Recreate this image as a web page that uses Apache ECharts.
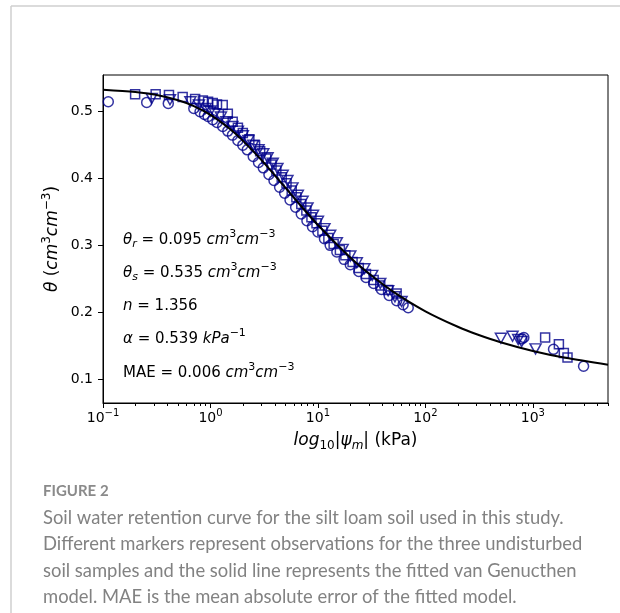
<!DOCTYPE html>
<html>
<head>
<meta charset="utf-8">
<style>html,body{margin:0;padding:0;background:#fff}#main{width:620px;height:613px}</style>
<script src="https://cdn.jsdelivr.net/npm/echarts@6/dist/echarts.min.js"></script>
</head>
<body>
<div id="main"></div>
<script>
    // observed points (kPa, cm3/cm3), three undisturbed samples
    var sampleSquares = [
        [0.199,0.526],[0.309,0.526],[0.411,0.525],[0.551,0.522],[0.72,0.519],[0.85,0.517],[0.95,0.515],
        [1.05,0.513],[1.15,0.511],[1.3,0.510],[1.45,0.497],[1.61,0.485],[1.8,0.476],[2.0,0.468],[2.3,0.459],
        [2.6,0.450],[2.9,0.441],[3.3,0.430],[3.7,0.421],[4.1,0.412],[4.6,0.402],[5.1,0.393],[5.7,0.382],
        [6.3,0.372],[7.0,0.362],[7.8,0.352],[8.7,0.342],[9.7,0.333],[11,0.322],[12.5,0.311],[14,0.302],
        [16,0.293],[18,0.285],[21,0.275],[24,0.266],[28,0.257],[33,0.248],[38,0.240],[45,0.233],[54,0.228],
        [1300,0.162],[1746,0.152],[1941,0.139],[2100,0.132]
    ];
    var sampleTriangles = [
        [0.284,0.520],[0.42,0.518],[0.65,0.515],[0.78,0.510],[0.9,0.505],[1.0,0.501],[1.1,0.497],[1.25,0.492],
        [1.4,0.485],[1.6,0.478],[1.8,0.471],[2.0,0.464],[2.25,0.457],[2.5,0.450],[2.8,0.443],[3.1,0.437],
        [3.4,0.431],[3.8,0.423],[4.2,0.415],[4.7,0.405],[5.2,0.397],[5.8,0.386],[6.5,0.375],[7.2,0.366],
        [8.0,0.356],[9.0,0.345],[10,0.336],[11.5,0.325],[13,0.315],[15,0.304],[17,0.294],[20,0.284],
        [23,0.274],[27,0.265],[32,0.255],[38,0.243],[45,0.232],[52,0.223],[60,0.216],
        [504,0.161],[647,0.164],[730,0.159],[785,0.156],[1059,0.145]
    ];
    var sampleCircles = [
        [0.112,0.515],[0.255,0.514],[0.405,0.5125],[0.7,0.505],[0.8,0.500],[0.88,0.496],[0.95,0.493],
        [1.05,0.488],[1.15,0.484],[1.3,0.478],[1.45,0.471],[1.6,0.465],[1.8,0.457],[2.0,0.450],[2.2,0.443],
        [2.5,0.433],[2.8,0.424],[3.1,0.416],[3.5,0.406],[3.9,0.397],[4.4,0.387],[4.9,0.378],[5.5,0.368],
        [6.2,0.357],[7.0,0.347],[7.9,0.337],[8.9,0.328],[10,0.320],[11.5,0.310],[13,0.300],[15,0.290],
        [17.5,0.279],[20,0.271],[24,0.261],[28,0.252],[33,0.243],[39,0.234],[46,0.225],[54,0.217],
        [62,0.211],[69.2,0.2066],
        [790,0.160],[824,0.162],[1556,0.1443],[2962,0.119]
    ];

    // fitted van Genuchten curve
    var curveX = [0.1,0.2,0.3,0.5,0.7,1,1.5,2,3,5,7,10,20,30,50,100,200,300,500,1000,2000,5000];
    var curveY = [0.533,0.5295,0.5257,0.5173,0.5085,0.4954,0.4749,0.4568,0.4271,0.3859,0.3585,0.3305,
                  0.2818,0.2574,0.2308,0.2013,0.1781,0.1669,0.1550,0.1419,0.1316,0.1214];

    var xMajor = [0.1, 1, 10, 100, 1000];
    var xExponents = ['\u22121', '0', '1', '2', '3'];
    var xMinor = [0.2,0.3,0.4,0.5,0.6,0.7,0.8,0.9,2,3,4,5,6,7,8,9,20,30,40,50,60,70,80,90,
                  200,300,400,500,600,700,800,900,2000,3000,4000,5000];
    var yTicks = [0.1, 0.2, 0.3, 0.4, 0.5];

    var captionLines = [
        'Soil water retention curve for the silt loam soil used in this study.',
        'Different markers represent observations for the three undisturbed',
        'soil samples and the solid line represents the fitted van Genucthen',
        'model. MAE is the mean absolute error of the fitted model.'
    ];

    var blue = '#00008b';
    var ff = 'DejaVu Sans';

    function mathRich(size, lh) {
        var small = Math.round(size * 0.7);
        var up = Math.round(size * 0.72);
        var down = Math.round(size * 0.55);
        return {
            n: {fontSize: size, fontFamily: ff, color: '#000', lineHeight: lh},
            i: {fontSize: size, fontFamily: ff, fontStyle: 'italic', color: '#000', lineHeight: lh},
            sup: {fontSize: small, fontFamily: ff, color: '#000', lineHeight: lh, padding: [0, 0, up, 0]},
            sub: {fontSize: small, fontFamily: ff, color: '#000', lineHeight: lh, padding: [down, 0, 0, 0]},
            subi: {fontSize: small, fontFamily: ff, fontStyle: 'italic', color: '#000', lineHeight: lh, padding: [down, 0, 0, 0]}
        };
    }
    var tickRich = mathRich(14, 22);
    var noteRich = mathRich(15, 24);
    var nameRich = mathRich(17, 26);

    var curve = curveX.map(function (x, k) { return [x, curveY[k]]; });

    var notes = [
        '{i|θ}{subi|r}{n| = 0.095 }{i|cm}{sup|3}{i|cm}{sup|\u22123}',
        '{i|θ}{subi|s}{n| = 0.535 }{i|cm}{sup|3}{i|cm}{sup|\u22123}',
        '{i|n}{n| = 1.356}',
        '{i|α}{n| = 0.539 }{i|kPa}{sup|\u22121}',
        '{n|MAE = 0.006 }{i|cm}{sup|3}{i|cm}{sup|\u22123}'
    ];
    var noteY = [240, 273, 306, 339, 373];

    var graphics = [
        {type: 'line', shape: {x1: 11, y1: 6, x2: 620, y2: 6}, style: {stroke: '#cfcfcf', lineWidth: 1.5}},
        {type: 'line', shape: {x1: 11, y1: 6, x2: 11, y2: 613}, style: {stroke: '#cfcfcf', lineWidth: 1.5}},
        {type: 'text', x: 43, y: 491, style: {text: 'FIGURE 2', fontFamily: 'Lato', fontSize: 15,
            fontWeight: 'bold', fill: '#8a8a8a', verticalAlign: 'middle'}}
    ];
    notes.forEach(function (t, k) {
        graphics.push({type: 'text', x: 123, y: noteY[k], z: 10,
            style: {text: t, rich: noteRich, verticalAlign: 'middle'}});
    });
    captionLines.forEach(function (t, k) {
        graphics.push({type: 'text', x: 43, y: 518 + k * 26.5,
            style: {text: t, fontFamily: 'Lato', fontSize: 18.4, fill: '#828282', verticalAlign: 'middle'}});
    });

    var myChart = echarts.init(document.getElementById('main'));

    option = {
        animation: false,
        backgroundColor: '#fff',
        grid: {left: 103, top: 75, width: 505, height: 328, show: true, borderColor: '#000', borderWidth: 1},
        xAxis: [
            {
                type: 'log',
                logBase: 10,
                min: 0.1,
                max: 5000,
                position: 'bottom',
                name: '{i|log}{sub|10}{n||}{i|ψ}{subi|m}{n|| (kPa)}',
                nameLocation: 'middle',
                nameGap: 25,
                nameMoveOverlap: false,
                nameTextStyle: {rich: nameRich},
                axisLine: {lineStyle: {color: '#000', width: 1}},
                axisTick: {length: 5, lineStyle: {color: '#000'}, customValues: xMajor},
                axisLabel: {
                    margin: 4,
                    customValues: xMajor,
                    rich: tickRich,
                    formatter: function (v) {
                        var k = xMajor.indexOf(v);
                        if (k < 0) {
                            k = Math.round(Math.log10(v)) + 1;
                        }
                        return '{n|10}{sup|' + xExponents[k] + '}';
                    }
                },
                splitLine: {show: false}
            },
            {
                type: 'log',
                logBase: 10,
                min: 0.1,
                max: 5000,
                position: 'bottom',
                axisLine: {show: false},
                axisTick: {length: 3, lineStyle: {color: '#000'}, customValues: xMinor},
                axisLabel: {show: false},
                splitLine: {show: false}
            }
        ],
        yAxis: {
            type: 'value',
            min: 0.064,
            max: 0.555,
            name: '{i|θ}{n| (}{i|cm}{sup|3}{i|cm}{sup|\u22123}{n|)}',
            nameLocation: 'middle',
            nameGap: 37,
            nameMoveOverlap: false,
            nameTextStyle: {rich: nameRich},
            axisLine: {show: true, lineStyle: {color: '#000', width: 1}},
            axisTick: {show: true, length: 5, lineStyle: {color: '#000'}, customValues: yTicks},
            axisLabel: {
                margin: 10,
                customValues: yTicks,
                fontFamily: ff,
                fontSize: 14,
                color: '#000',
                formatter: function (v) { return v.toFixed(1); }
            },
            splitLine: {show: false}
        },
        series: [
            {
                name: 'sample 1',
                type: 'scatter',
                symbol: 'rect',
                symbolSize: 9,
                data: sampleSquares,
                itemStyle: {color: 'transparent', borderColor: blue, borderWidth: 1.5}
            },
            {
                name: 'sample 2',
                type: 'scatter',
                symbol: 'triangle',
                symbolRotate: 180,
                symbolSize: [11, 10],
                data: sampleTriangles,
                itemStyle: {color: 'transparent', borderColor: blue, borderWidth: 1.5}
            },
            {
                name: 'sample 3',
                type: 'scatter',
                symbol: 'circle',
                symbolSize: 10,
                data: sampleCircles,
                itemStyle: {color: 'transparent', borderColor: blue, borderWidth: 1.5}
            },
            {
                name: 'fit',
                type: 'line',
                smooth: 0.3,
                showSymbol: false,
                data: curve,
                z: 5,
                lineStyle: {color: '#000', width: 2}
            }
        ],
        graphic: graphics
    };

    myChart.setOption(option);
</script>
</body>
</html>
